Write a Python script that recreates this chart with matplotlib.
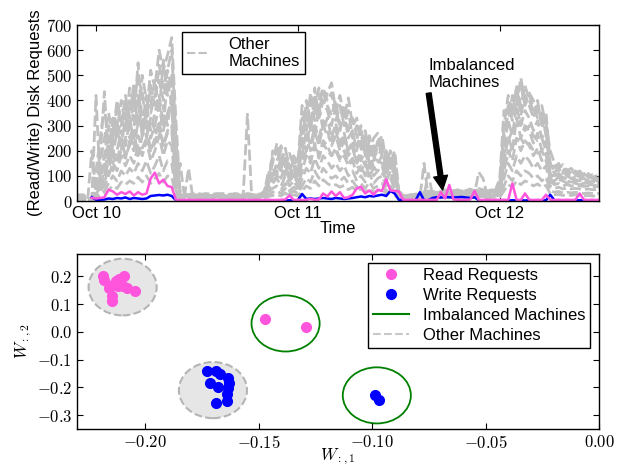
import numpy as np
import pandas as pd
import matplotlib
matplotlib.use("Agg")
import matplotlib.pyplot as plt
import matplotlib.dates as mdates
from matplotlib.patches import Ellipse
from matplotlib.lines import Line2D
from matplotlib.ticker import FuncFormatter, MultipleLocator

plt.rcParams["font.family"] = ["Liberation Sans", "DejaVu Sans"]
plt.rcParams["mathtext.fontset"] = "cm"
plt.rcParams["font.size"] = 12

nan = np.nan

# --- top panel: disk requests per machine, sampled every 30 min from Oct 9 21:30 ---
start = pd.Timestamp("2014-10-09 21:30")
step_h = 0.5

other_machines = [
    [25, 25, 22, 8, 10, 15, 40, 90, 160, 250, 380, 300,
     420, 330, 470, 380, 430, 350, 520, 450, 600, 520, 580, 650,
     320, 35, 28, 25, 30, 27, 24, 30, 28, 25, 26, 30,
     28, 25, 30, 26, 24, 30, 27, 22, 25, 40, 90, 150,
     230, 130, 170, 120, 160, 110, 330, 300, 400, 360, 450, 380,
     430, 470, 360, 420, 330, 410, 300, 330, 230, 280, 200, 250,
     270, 200, 190, 150, 200, 40, 25, 22, 26, 24, 28, 35,
     40, 35, 32, 38, 42, 35, 40, 45, 38, 42, 48, 40,
     50, 45, 40, 42, 45, 90, 360, 300, 420, 380, 490, 400,
     430, 400, 350, 380, 300, 200, 150, 130, 145, 120, 130, 110,
     120, 100, 110, 95, 100, 90],
    [20, 22, 25, 5, 8, 420, 60, 120, 200, 300, 250, 330,
     280, 400, 320, 550, 300, 420, 380, 480, 350, 560, 420, 500,
     150, 30, 25, 22, 25, 30, 28, 25, 22, 28, 30, 25,
     22, 28, 25, 30, 28, 25, 22, 26, 28, 30, 120, 80,
     160, 200, 110, 150, 90, 130, 200, 400, 300, 450, 330, 400,
     360, 300, 380, 280, 350, 250, 280, 200, 300, 180, 240, 160,
     220, 260, 150, 200, 120, 35, 22, 25, 22, 28, 25, 30,
     35, 38, 40, 35, 45, 38, 42, 36, 40, 45, 38, 42,
     45, 42, 38, 45, 40, 60, 250, 380, 320, 460, 340, 420,
     380, 330, 400, 290, 350, 150, 120, 150, 110, 125, 105, 120,
     100, 110, 95, 105, 90, 95],
    [15, 18, 20, 3, 5, 20, 180, 435, 150, 220, 320, 200,
     350, 250, 300, 420, 250, 380, 280, 350, 420, 300, 480, 380,
     100, 25, 20, 18, 22, 25, 20, 18, 20, 22, 25, 20,
     18, 20, 22, 25, 20, 22, 18, 20, 22, 25, 70, 130,
     100, 180, 140, 90, 120, 80, 250, 200, 330, 250, 380, 280,
     330, 250, 310, 230, 270, 200, 240, 160, 200, 250, 150, 200,
     180, 210, 120, 180, 100, 30, 20, 18, 22, 20, 22, 25,
     30, 28, 32, 30, 35, 32, 30, 35, 32, 30, 35, 38,
     38, 35, 32, 36, 35, 50, 200, 320, 260, 380, 300, 360,
     330, 280, 320, 250, 280, 120, 100, 110, 95, 100, 90, 95,
     85, 90, 80, 85, 80, 75],
    [10, 12, 15, 2, 5, 10, 100, 180, 300, 180, 280, 220,
     250, 300, 200, 320, 350, 250, 330, 280, 250, 380, 300, 420,
     80, 22, 18, 20, 18, 22, 20, 25, 22, 20, 18, 22,
     20, 18, 22, 20, 25, 345, 25, 20, 22, 30, 80, 110,
     120, 90, 150, 80, 100, 70, 180, 280, 220, 300, 250, 320,
     280, 220, 260, 200, 240, 180, 210, 150, 180, 140, 200, 130,
     150, 180, 100, 160, 90, 25, 18, 20, 18, 22, 20, 22,
     110, 25, 28, 25, 30, 28, 25, 30, 28, 25, 30, 32,
     32, 30, 28, 30, 32, 45, 150, 260, 200, 330, 250, 300,
     280, 230, 270, 200, 240, 100, 80, 95, 85, 80, 75, 80,
     75, 70, 72, 68, 70, 65],
    [8, 10, 12, 2, 200, 30, 50, 80, 120, 200, 150, 250,
     180, 220, 280, 180, 260, 300, 200, 250, 320, 220, 280, 300,
     60, 150, 20, 15, 18, 20, 15, 18, 20, 15, 18, 20,
     15, 18, 20, 18, 15, 20, 18, 15, 18, 20, 50, 70,
     90, 60, 100, 60, 80, 50, 120, 180, 150, 230, 180, 240,
     220, 180, 200, 160, 180, 140, 160, 110, 140, 100, 150, 100,
     120, 140, 80, 120, 70, 20, 15, 18, 15, 18, 15, 18,
     20, 22, 25, 22, 25, 22, 25, 22, 25, 28, 25, 28,
     115, 90, 25, 28, 25, 35, 120, 200, 160, 250, 200, 240,
     220, 180, 210, 160, 190, 80, 65, 70, 60, 65, 60, 62,
     60, 58, 60, 55, 58, 55],
    [5, 8, 10, 1, 10, 25, 40, 60, 100, 150, 120, 180,
     140, 180, 150, 220, 180, 240, 160, 200, 260, 180, 240, 220,
     40, 20, 15, 130, 15, 12, 15, 12, 15, 18, 15, 12,
     12, 15, 12, 15, 18, 15, 12, 15, 15, 18, 35, 50,
     60, 45, 70, 40, 55, 40, 90, 130, 110, 170, 130, 180,
     160, 130, 150, 120, 140, 100, 120, 80, 100, 75, 110, 70,
     90, 100, 60, 90, 50, 15, 12, 15, 12, 15, 12, 150,
     15, 18, 20, 18, 22, 20, 18, 22, 20, 22, 25, 22,
     25, 22, 20, 22, 25, 28, 90, 150, 120, 180, 150, 180,
     160, 130, 150, 120, 140, 60, 50, 55, 48, 52, 48, 50,
     48, 45, 48, 45, 46, 45],
    [5, 6, 8, 1, 5, 15, 30, 40, 70, 100, 80, 120,
     100, 130, 110, 150, 120, 160, 110, 140, 180, 120, 160, 150,
     30, 15, 12, 10, 12, 10, 12, 10, 12, 15, 12, 10,
     10, 12, 10, 12, 15, 12, 10, 12, 12, 15, 25, 35,
     40, 30, 50, 28, 40, 30, 60, 90, 75, 120, 90, 130,
     110, 90, 100, 80, 95, 70, 80, 55, 70, 50, 75, 50,
     60, 70, 40, 60, 35, 12, 10, 12, 10, 12, 10, 12,
     12, 15, 15, 15, 18, 15, 15, 18, 15, 18, 20, 18,
     20, 18, 16, 18, 20, 22, 60, 100, 80, 120, 100, 120,
     110, 90, 100, 80, 95, 40, 35, 38, 32, 35, 32, 35,
     32, 30, 32, 30, 30, 30],
    [3, 4, 5, 0, 3, 10, 20, 25, 45, 60, 50, 75,
     65, 80, 70, 95, 75, 100, 70, 90, 110, 75, 100, 95,
     20, 10, 8, 8, 10, 8, 10, 8, 10, 12, 10, 8,
     8, 10, 8, 10, 12, 10, 8, 10, 10, 12, 18, 22,
     25, 20, 32, 18, 25, 20, 40, 60, 50, 80, 60, 85,
     70, 60, 65, 55, 62, 45, 55, 38, 48, 35, 50, 35,
     40, 48, 28, 40, 25, 8, 8, 10, 8, 10, 8, 10,
     10, 12, 12, 12, 14, 12, 12, 14, 12, 14, 15, 14,
     15, 14, 12, 14, 15, 16, 40, 65, 55, 80, 65, 80,
     72, 60, 68, 55, 62, 28, 25, 26, 22, 25, 22, 25,
     22, 20, 22, 20, 20, 20],
    [20, 18, 15, 0, 5, 120, 250, 380, 200, 330, 280, 400,
     300, 450, 380, 500, 420, 320, 460, 380, 540, 450, 520, 600,
     250, 25, 22, 20, 25, 22, 20, 25, 22, 20, 25, 22,
     20, 25, 22, 20, 25, 22, 20, 25, 22, 35, 100, 180,
     200, 150, 210, 130, 180, 150, 380, 280, 430, 320, 400, 450,
     400, 430, 320, 380, 300, 360, 250, 300, 260, 220, 260, 180,
     240, 180, 200, 130, 180, 30, 22, 20, 22, 20, 22, 28,
     30, 32, 35, 30, 38, 32, 35, 38, 35, 38, 42, 35,
     40, 38, 35, 38, 40, 70, 300, 420, 350, 450, 380, 460,
     400, 360, 380, 320, 330, 130, 140, 120, 135, 110, 115, 100,
     110, 95, 105, 90, 95, 85],
    [12, 15, 18, 2, 6, 60, 150, 250, 350, 260, 400, 320,
     380, 280, 420, 300, 500, 400, 350, 420, 480, 400, 520, 450,
     200, 20, 18, 22, 20, 18, 22, 20, 18, 22, 20, 18,
     22, 20, 18, 22, 20, 18, 22, 20, 25, 30, 60, 200,
     180, 220, 130, 190, 140, 170, 260, 350, 280, 420, 360, 430,
     380, 340, 400, 300, 380, 280, 330, 260, 210, 260, 180, 220,
     200, 230, 160, 170, 140, 25, 20, 22, 20, 22, 20, 25,
     28, 30, 28, 32, 30, 35, 32, 30, 35, 32, 35, 30,
     35, 32, 30, 35, 38, 55, 280, 340, 400, 420, 460, 380,
     420, 370, 330, 350, 260, 140, 110, 135, 120, 100, 110, 105,
     95, 100, 90, 95, 85, 90],
    [8, 10, 12, 1, 4, 40, 80, 150, 250, 150, 200, 280,
     220, 320, 250, 350, 280, 330, 250, 300, 380, 280, 350, 400,
     120, 18, 15, 18, 15, 18, 15, 18, 15, 18, 15, 18,
     15, 18, 15, 18, 15, 18, 15, 18, 20, 25, 45, 100,
     140, 120, 160, 100, 140, 90, 220, 250, 200, 280, 220, 300,
     260, 240, 280, 220, 260, 200, 220, 180, 160, 200, 130, 170,
     160, 150, 120, 140, 110, 20, 15, 18, 15, 18, 15, 18,
     20, 25, 22, 25, 28, 25, 22, 25, 28, 25, 30, 25,
     28, 25, 22, 25, 28, 40, 180, 240, 280, 300, 320, 280,
     300, 260, 240, 250, 200, 110, 90, 100, 95, 85, 90, 85,
     80, 85, 75, 80, 72, 75],
    [6, 8, 10, 1, 3, 30, 60, 100, 180, 120, 160, 200,
     170, 240, 200, 260, 210, 250, 200, 230, 300, 220, 270, 280,
     90, 15, 12, 15, 12, 15, 12, 15, 12, 15, 12, 15,
     12, 15, 12, 15, 12, 15, 12, 15, 15, 20, 40, 80,
     100, 90, 120, 80, 110, 70, 160, 200, 160, 220, 170, 230,
     200, 180, 210, 170, 200, 150, 170, 140, 120, 150, 100, 130,
     120, 110, 90, 110, 80, 15, 12, 15, 12, 15, 12, 15,
     15, 18, 16, 18, 20, 18, 16, 18, 20, 18, 22, 18,
     20, 18, 16, 18, 20, 30, 140, 180, 220, 240, 250, 220,
     230, 200, 190, 200, 160, 90, 75, 85, 80, 70, 75, 70,
     65, 70, 62, 66, 60, 62],
]

read_imbalanced = [
    nan, nan, nan, nan, 12, 10, 12, 15, 45, 38, 25, 35,
    28, 38, 22, 35, 25, 30, 90, 113, 70, 85, 60, 55,
    5, 4, 4, 5, 4, 4, 5, 4, 4, 5, 4, 4,
    4, 5, 4, 4, 5, 4, 4, 5, 4, 4, 5, 4,
    4, 5, 6, 22, 4, 5, 4, 5, 8, 5, 6, 30,
    18, 38, 20, 35, 12, 15, 25, 50, 57, 30, 42, 25,
    45, 40, 86, 42, 40, 38, 5, 4, 5, 4, 5, 4,
    4, 5, 4, 35, 10, 64, 6, 5, 4, 5, 6, 40,
    5, 4, 5, 4, 5, 4, 5, 4, 70, 5, 4, 30,
    5, 4, 5, 4, 25, 5, 4, 5, 4, 5, 4, 5,
    30, 5, 4, 5, 4, 5,
]

write_imbalanced = [
    nan, nan, nan, nan, 15, 5, 5, 6, 10, 8, 12, 10,
    14, 8, 12, 10, 8, 10, 20, 22, 24, 22, 25, 20,
    3, 2, 2, 3, 2, 2, 3, 2, 2, 3, 2, 2,
    2, 3, 2, 2, 3, 2, 2, 3, 2, 2, 3, 2,
    2, 3, 2, 3, 2, 3, 28, 8, 10, 8, 10, 12,
    10, 8, 12, 10, 8, 10, 12, 15, 18, 15, 20, 18,
    22, 25, 20, 40, 30, 5, 3, 2, 3, 3, 35, 3,
    3, 12, 15, 14, 16, 15, 14, 15, 16, 14, 12, 15,
    3, 2, 3, 2, 3, 2, 3, 2, 3, 2, 3, 2,
    3, 2, 3, 2, 3, 25, 3, 2, 3, 2, 3, 2,
    3, 2, 3, 2, 3, 2,
]

# --- bottom panel: embedding W[:,1], W[:,2] ---
read_other_w1 = [-0.2187, -0.2183, -0.2158, -0.2143, -0.2128, -0.2114, -0.2091,
                 -0.2121, -0.2099, -0.2081, -0.2043, -0.2146, -0.2146]
read_other_w2 = [0.202, 0.188, 0.158, 0.170, 0.182, 0.190, 0.202,
                 0.164, 0.164, 0.158, 0.148, 0.128, 0.110]
write_other_w1 = [-0.1727, -0.1686, -0.1668, -0.1634, -0.1630, -0.1712,
                  -0.1678, -0.1634, -0.1637, -0.1686, -0.1639]
write_other_w2 = [-0.143, -0.143, -0.153, -0.167, -0.186, -0.186,
                  -0.198, -0.204, -0.224, -0.255, -0.251]
read_imb_w1 = [-0.1473, -0.1292]
read_imb_w2 = [0.046, 0.019]
write_imb_w1 = [-0.0985, -0.0970]
write_imb_w2 = [-0.227, -0.245]

# group outlines: (center w1, center w2, width, height)
other_groups = [(-0.2099, 0.161, 0.030, 0.204), (-0.1701, -0.210, 0.030, 0.202)]
imbalanced_groups = [(-0.1381, 0.030, 0.030, 0.202), (-0.0979, -0.229, 0.030, 0.202)]

pink = "#ff55dd"
gray = "#c0c0c0"

fig = plt.figure(figsize=(6.21, 4.69), dpi=100)
ax1 = fig.add_axes([0.124, 0.5714, 0.8406, 0.3753])
ax2 = fig.add_axes([0.124, 0.0853, 0.8406, 0.3731])


def make_times(n):
    return start + pd.to_timedelta(np.arange(n) * step_h, unit="h")


for i, series in enumerate(other_machines):
    ax1.plot(make_times(len(series)), series, color=gray, lw=2.0, ls="--",
             dashes=(4, 1.5), label="Other\nMachines" if i == 0 else None)
ax1.plot(make_times(len(write_imbalanced)), write_imbalanced, color="blue", lw=1.8)
ax1.plot(make_times(len(read_imbalanced)), read_imbalanced, color=pink, lw=1.8)

t0 = pd.Timestamp("2014-10-10")
ax1.set_xlim(t0 - pd.Timedelta(hours=2.26), t0 + pd.Timedelta(hours=59.8))
ax1.set_ylim(0, 700)
ax1.xaxis.set_major_locator(mdates.DayLocator())
ax1.xaxis.set_major_formatter(mdates.DateFormatter("%b %d"))
ax1.yaxis.set_major_locator(MultipleLocator(100))
ax1.yaxis.set_major_formatter(FuncFormatter(lambda v, p: r"$%d$" % v))
ax1.set_xlabel("Time", labelpad=0)
ax1.set_ylabel("(Read/Write) Disk Requests", labelpad=2)
leg1 = ax1.legend(loc="upper left", bbox_to_anchor=(0.201, 0.96), borderaxespad=0,
                  fancybox=False, edgecolor="black", framealpha=1, handlelength=1.3,
                  handletextpad=1.2, borderpad=0.3)
leg1.get_lines()[0].set_linewidth(1.5)
ax1.annotate("Imbalanced\nMachines", xy=(t0 + pd.Timedelta(hours=41.2), 44),
             xytext=(t0 + pd.Timedelta(hours=39.5), 440), ha="left", va="bottom",
             arrowprops=dict(facecolor="black", edgecolor="black", width=3.5,
                             headwidth=10, headlength=10, shrink=0))

for (cx, cy, w, h) in other_groups:
    ax2.add_patch(Ellipse((cx, cy), w, h, facecolor="#e6e6e6", edgecolor="#b4b4b4",
                          lw=1.5, ls="--", zorder=1))
for (cx, cy, w, h) in imbalanced_groups:
    ax2.add_patch(Ellipse((cx, cy), w, h, facecolor="none", edgecolor="green",
                          lw=1.3, zorder=1))
ax2.plot(read_other_w1, read_other_w2, "o", color=pink, mec=pink, ms=7, zorder=3)
ax2.plot(read_imb_w1, read_imb_w2, "o", color=pink, mec=pink, ms=7, zorder=3)
ax2.plot(write_other_w1, write_other_w2, "o", color="blue", mec="blue", ms=7, zorder=3)
ax2.plot(write_imb_w1, write_imb_w2, "o", color="blue", mec="blue", ms=7, zorder=3)

ax2.set_xlim(-0.23, 0.0)
ax2.set_ylim(-0.35, 0.28)
ax2.set_xticks([-0.20, -0.15, -0.10, -0.05, 0.00])
ax2.set_yticks([-0.3, -0.2, -0.1, 0.0, 0.1, 0.2])
ax2.xaxis.set_major_formatter(FuncFormatter(lambda v, p: r"$%.2f$" % v))
ax2.yaxis.set_major_formatter(FuncFormatter(lambda v, p: r"$%.1f$" % v))
ax2.set_xlabel(r"$W_{:,1}$", labelpad=-3)
ax2.set_ylabel(r"$W_{:,2}$", labelpad=2)

handles = [
    Line2D([], [], ls="none", marker="o", color=pink, mec=pink, ms=7),
    Line2D([], [], ls="none", marker="o", color="blue", mec="blue", ms=7),
    Line2D([], [], color="green", lw=1.5),
    Line2D([], [], color="#c8c8c8", lw=1.5, ls="--"),
]
labels = ["Read Requests", "Write Requests", "Imbalanced Machines", "Other Machines"]
ax2.legend(handles, labels, loc="upper right", bbox_to_anchor=(0.983, 0.949),
           borderaxespad=0, fancybox=False, edgecolor="black", framealpha=1,
           handlelength=2.2, handletextpad=0.8, borderpad=0.3, labelspacing=0.3)

for ax in (ax1, ax2):
    ax.tick_params(direction="in", top=True, right=True, length=4, width=0.8)
    for s in ax.spines.values():
        s.set_linewidth(1.0)

fig.savefig("out.png", dpi=100)
